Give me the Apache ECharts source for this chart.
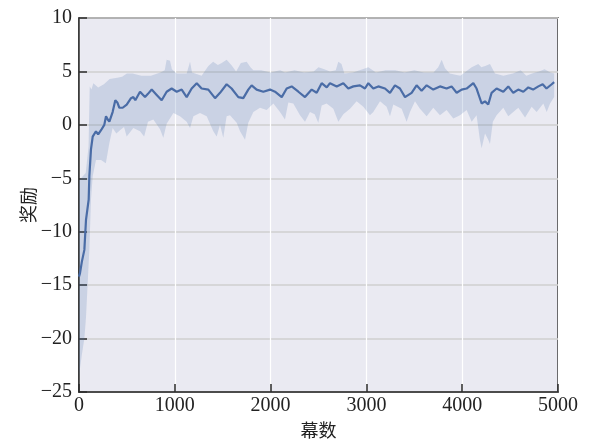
<!DOCTYPE html>
<html>
<head>
<meta charset="utf-8">
<script src="https://cdn.jsdelivr.net/npm/echarts@6/dist/echarts.min.js"></script>
<style>
  html, body { margin: 0; padding: 0; background: #ffffff; }
  #chart { width: 592px; height: 441px; }
</style>
</head>
<body>
<div id="chart"></div>
<script>
// Mean reward per episode (smoothed) with its spread band.
const meanEpisodes = [0, 10, 30, 56, 73, 101, 108, 125, 143, 177, 200, 230, 264, 282, 300, 317, 351, 379, 400, 421, 456, 498, 543, 567, 588, 637, 689, 720, 759, 811, 863, 915, 967, 1020, 1072, 1124, 1176, 1229, 1280, 1350, 1420, 1472, 1541, 1593, 1663, 1715, 1767, 1802, 1854, 1924, 1994, 2046, 2116, 2168, 2220, 2290, 2359, 2429, 2481, 2533, 2586, 2620, 2690, 2759, 2811, 2864, 2933, 2985, 3020, 3072, 3124, 3194, 3246, 3298, 3350, 3403, 3472, 3524, 3576, 3629, 3698, 3768, 3837, 3889, 3942, 3994, 4046, 4116, 4150, 4203, 4238, 4272, 4307, 4359, 4429, 4481, 4533, 4585, 4638, 4690, 4740, 4795, 4840, 4880, 4934, 4960];
const meanReward = [-14.2, -13.9, -12.8, -11.7, -8.9, -7.0, -4.8, -2.3, -1.1, -0.6, -0.9, -0.5, 0.0, 0.8, 0.5, 0.3, 1.2, 2.3, 2.1, 1.6, 1.6, 1.9, 2.5, 2.6, 2.3, 3.1, 2.6, 2.9, 3.3, 2.8, 2.3, 3.1, 3.4, 3.1, 3.3, 2.6, 3.4, 3.9, 3.4, 3.3, 2.5, 3.0, 3.8, 3.4, 2.6, 2.5, 3.3, 3.7, 3.3, 3.1, 3.3, 3.1, 2.6, 3.4, 3.6, 3.1, 2.6, 3.3, 3.0, 3.9, 3.5, 3.9, 3.6, 3.9, 3.4, 3.6, 3.7, 3.4, 3.9, 3.4, 3.6, 3.4, 3.0, 3.7, 3.4, 2.6, 3.0, 3.7, 3.2, 3.7, 3.3, 3.6, 3.4, 3.6, 3.0, 3.3, 3.4, 3.9, 3.4, 2.0, 2.2, 1.9, 3.0, 3.4, 3.1, 3.6, 3.0, 3.3, 3.1, 3.5, 3.3, 3.6, 3.8, 3.4, 3.8, 4.0];

const upperEpisodes = [0, 70, 100, 112, 130, 150, 200, 260, 320, 400, 450, 500, 560, 650, 750, 850, 895, 915, 950, 970, 1020, 1124, 1159, 1180, 1280, 1350, 1400, 1450, 1490, 1541, 1590, 1640, 1690, 1750, 1790, 1820, 1900, 2000, 2100, 2150, 2250, 2350, 2450, 2500, 2560, 2620, 2680, 2707, 2740, 2770, 2860, 2960, 3020, 3100, 3200, 3300, 3400, 3500, 3600, 3700, 3750, 3786, 3820, 3870, 3980, 4099, 4168, 4200, 4240, 4290, 4342, 4430, 4530, 4610, 4670, 4730, 4800, 4860, 4920, 4960];
const upperReward = [-5.2, -4.5, -2.0, 3.6, 3.3, 3.9, 3.5, 3.8, 4.3, 4.4, 4.5, 4.8, 4.8, 4.6, 4.6, 4.9, 5.1, 6.1, 6.0, 5.2, 4.8, 4.8, 5.9, 4.9, 4.6, 5.5, 5.9, 5.6, 5.8, 6.1, 5.6, 5.0, 5.8, 5.9, 5.4, 5.1, 5.1, 4.9, 5.1, 4.9, 5.1, 4.9, 5.0, 5.4, 5.2, 5.0, 5.1, 5.9, 5.7, 4.8, 4.9, 5.2, 5.4, 4.9, 5.1, 5.1, 4.9, 5.1, 4.9, 4.9, 5.4, 6.1, 5.3, 4.8, 4.6, 5.4, 5.7, 5.4, 5.5, 5.7, 4.8, 4.6, 4.8, 5.1, 4.6, 4.8, 5.0, 5.2, 4.9, 4.8];

const lowerEpisodes = [0, 30, 56, 73, 95, 108, 125, 143, 177, 230, 280, 317, 351, 390, 428, 470, 498, 567, 637, 680, 720, 776, 846, 880, 915, 985, 1054, 1124, 1159, 1194, 1263, 1333, 1402, 1437, 1472, 1506, 1541, 1576, 1646, 1681, 1733, 1767, 1820, 1889, 1959, 2029, 2098, 2150, 2185, 2237, 2307, 2359, 2411, 2460, 2498, 2533, 2585, 2655, 2707, 2759, 2829, 2898, 2968, 3037, 3072, 3142, 3211, 3246, 3281, 3368, 3420, 3455, 3507, 3559, 3629, 3698, 3768, 3837, 3907, 3977, 4046, 4099, 4150, 4185, 4203, 4238, 4272, 4290, 4320, 4359, 4429, 4481, 4533, 4586, 4656, 4725, 4777, 4847, 4882, 4917, 4960];
const lowerReward = [-23.5, -21.5, -20, -18, -14, -11.7, -7.0, -4.8, -3.3, -3.3, -3.6, -1.7, -0.3, -0.8, -0.5, -0.2, -1.1, -0.3, -0.6, -1.1, 0.3, 0.5, -0.4, -1.2, 0.1, 1.1, 0.8, 0.3, -0.3, 0.8, 1.1, 0.8, -0.6, -1.1, 0.0, -1.2, 0.8, 0.9, 0.2, -0.6, -1.4, 0.2, 1.2, 1.6, 1.4, 2.0, 1.2, 0.5, 2.1, 2.0, 0.9, 0.3, 1.2, 1.0, 0.2, 1.8, 2.0, 1.5, 0.3, 1.0, 1.5, 2.2, 1.7, 0.9, 1.2, 2.2, 1.7, 0.8, 1.9, 1.5, 0.3, 1.2, 2.2, 1.5, 0.8, 1.6, 0.9, 1.4, 0.6, 0.9, 1.4, 0.3, 0.9, -1.4, -2.2, -0.8, -1.4, -1.8, 0.3, 0.9, 1.6, 0.8, 1.2, 1.6, 0.7, 1.7, 1.2, 2.0, 1.2, 2.0, 2.6];

const xTicks = [0, 1000, 2000, 3000, 4000, 5000];
const yTicks = [-25, -20, -15, -10, -5, 0, 5, 10];

const pair = (xs, ys) => xs.map((x, i) => [x, ys[i]]);

const serif = '"Liberation Serif", "DejaVu Serif", serif';
const cjk = '"Noto Sans CJK SC", sans-serif';
const fmt = v => String(v).replace('-', '\u2212');

const chart = echarts.init(document.getElementById('chart'));
chart.setOption({
  animation: false,
  backgroundColor: '#ffffff',
  grid: {
    left: 79, right: 34, top: 18, bottom: 49,
    outerBoundsMode: 'none',
    show: true,
    backgroundColor: '#eaeaf2',
    borderColor: '#2b2b2b',
    borderWidth: 1.5
  },
  xAxis: {
    type: 'value',
    min: xTicks[0], max: xTicks[xTicks.length - 1], interval: 1000,
    name: '幕数', nameLocation: 'middle', nameGap: 29, nameMoveOverlap: false,
    nameTextStyle: { fontFamily: cjk, fontSize: 18, color: '#222' },
    axisLine: { show: true, onZero: false, lineStyle: { color: '#2b2b2b', width: 1.5 } },
    axisTick: { show: true, inside: true, length: 8, lineStyle: { color: '#2b2b2b', width: 1.5 } },
    axisLabel: { fontFamily: serif, fontSize: 20, color: '#222', margin: 4, formatter: fmt },
    splitLine: { show: true, lineStyle: { color: '#ffffff', width: 1.2 } }
  },
  yAxis: {
    type: 'value',
    min: yTicks[0], max: yTicks[yTicks.length - 1], interval: 5,
    name: '奖励', nameLocation: 'middle', nameGap: 42, nameMoveOverlap: false,
    nameTextStyle: { fontFamily: cjk, fontSize: 18, color: '#222' },
    axisLine: { show: true, onZero: false, lineStyle: { color: '#2b2b2b', width: 1.5 } },
    axisTick: { show: true, inside: true, length: 8, lineStyle: { color: '#2b2b2b', width: 1.5 } },
    axisLabel: { fontFamily: serif, fontSize: 20, color: '#222', margin: 7, formatter: fmt },
    splitLine: { show: true, lineStyle: { color: '#cfcfcf', width: 1.5 } }
  },
  series: [
    {
      // spread band: upper edge forward, lower edge back
      type: 'custom',
      coordinateSystem: 'cartesian2d',
      silent: true,
      data: [[0, 0]],
      renderItem: function (params, api) {
        if (params.dataIndex !== 0) return null;
        const pts = [];
        for (let i = 0; i < upperEpisodes.length; i++) {
          pts.push(api.coord([upperEpisodes[i], upperReward[i]]));
        }
        for (let i = lowerEpisodes.length - 1; i >= 0; i--) {
          pts.push(api.coord([lowerEpisodes[i], lowerReward[i]]));
        }
        return {
          type: 'polygon',
          shape: { points: pts },
          style: { fill: 'rgba(76,114,176,0.2)', stroke: 'none' }
        };
      },
      z: 2
    },
    {
      type: 'line',
      data: pair(meanEpisodes, meanReward),
      showSymbol: false,
      lineStyle: { color: '#4a6ca6', width: 2.2 },
      z: 3
    }
  ]
});
</script>
</body>
</html>
